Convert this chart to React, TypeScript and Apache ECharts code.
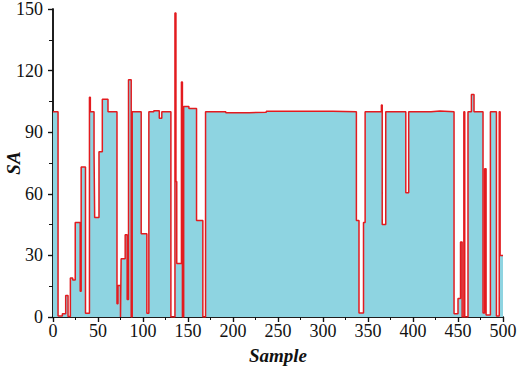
import React, { useEffect, useRef } from "react";
import * as echarts from "echarts";

// Step segments: each value holds from its start sample to the next start.
const segStarts = [
  0, 5.6, 10.4, 14.1, 16.7, 19.3, 21.9, 24.7, 30.2, 31.3, 36.1, 40.5, 41.5, 45.6, 46.3,
  51.1, 54.8, 61.1, 71.1, 72.2, 75, 75.7, 80.2, 82.4, 83.9, 86.9, 88, 98, 104.3, 106.5,
  112, 118.1, 120.9, 131, 135.5, 136.6, 137.5, 142.7, 143.8, 145.2, 151, 159.5, 166.5,
  169.5, 192, 218, 237, 311, 337.1, 340, 345, 346.8, 364.9, 365.8, 369.7, 392, 395.2,
  420, 430, 445.6, 450, 452.8, 454.6, 456.5, 457.5, 461.1, 464.9, 467.8, 477.8, 479.6,
  481.2, 486, 492.7, 495.8, 496.8,
];
const segValues = [
  100, 0.5, 1.6, 10.5, 0.3, 19, 18, 46, 12.5, 73, 1.8, 107, 100, 80, 48.5,
  80.5, 106, 100, 6.5, 15.4, 0, 28.4, 40, 8.5, 115.5, 0, 100, 40.5, 1.8, 100,
  100.5, 96.8, 100, 0, 148, 66, 26, 114.5, 0, 102.5, 101.5, 47, 0,
  100, 99.5, 99.7, 100.2, 100, 47, 2, 46, 100, 103.3, 45, 100, 60.5, 100,
  100.3, 100, 1.6, 9, 36.5, 0, 100, 0, 100, 108.3, 100, 2, 72.2,
  1, 100, 0.5, 100, 30,
];
const xEnd = 500;
const xTicks = [0, 50, 100, 150, 200, 250, 300, 350, 400, 450, 500];
const yTicks = [0, 30, 60, 90, 120, 150];

const FONT = "Times New Roman, Liberation Serif, serif";

export default function App() {
  const ref = useRef<HTMLDivElement>(null);
  useEffect(() => {
    if (!ref.current) return;
    const chart = echarts.init(ref.current, null, { renderer: "svg" });
    const data: [number, number][] = segStarts.map((s, i) => [s, segValues[i]]);
    data.push([xEnd, segValues[segValues.length - 1]]);
    const xMin = xTicks[0];
    const xMax = xTicks[xTicks.length - 1];
    const xInt = xTicks[1] - xTicks[0];
    const yMin = yTicks[0];
    const yMax = yTicks[yTicks.length - 1];
    const yInt = yTicks[1] - yTicks[0];
    const axisLine = { show: true, lineStyle: { color: "#111", width: 1.5 } };
    const labelStyle = { color: "#111", fontFamily: FONT, fontSize: 18 };
    chart.setOption({
      animation: false,
      backgroundColor: "#fff",
      textStyle: { fontFamily: FONT },
      grid: { left: 53, right: 18, top: 9, bottom: 52, containLabel: false, outerBoundsMode: "none" },
      xAxis: [
        {
          type: "value",
          position: "bottom",
          min: xMin,
          max: xMax,
          interval: xInt,
          name: "Sample",
          nameLocation: "middle",
          nameGap: 29,
          nameMoveOverlap: false,
          nameTextStyle: { fontFamily: FONT, fontSize: 19, fontWeight: "bold", fontStyle: "italic", color: "#111" },
          axisLine,
          axisTick: { show: true, inside: false, length: 5, lineStyle: { color: "#111", width: 1.2 } },
          minorTick: { show: true, splitNumber: 2, length: 3, lineStyle: { color: "#111", width: 1 } },
          axisLabel: { ...labelStyle, margin: 5 },
          splitLine: { show: false },
        },
        {
          type: "value",
          position: "top",
          min: xMin,
          max: xMax,
          interval: xInt,
          axisLine,
          axisTick: { show: true, inside: true, length: 5, lineStyle: { color: "#111", width: 1.2 } },
          axisLabel: { show: false },
          splitLine: { show: false },
        },
      ],
      yAxis: [
        {
          type: "value",
          position: "left",
          min: yMin,
          max: yMax,
          interval: yInt,
          name: "SA",
          nameLocation: "middle",
          nameGap: 30,
          nameMoveOverlap: false,
          nameTextStyle: { fontFamily: FONT, fontSize: 19, fontWeight: "bold", fontStyle: "italic", color: "#111" },
          axisLine,
          axisTick: { show: true, inside: false, length: 5, lineStyle: { color: "#111", width: 1.2 } },
          minorTick: { show: true, splitNumber: 2, length: 3, lineStyle: { color: "#111", width: 1 } },
          axisLabel: { ...labelStyle, margin: 10 },
          splitLine: { show: false },
        },
        {
          type: "value",
          position: "right",
          min: yMin,
          max: yMax,
          interval: yInt,
          axisLine,
          axisTick: { show: true, inside: true, length: 5, lineStyle: { color: "#111", width: 1.2 } },
          minorTick: { show: true, splitNumber: 2, length: 4, lineStyle: { color: "#111", width: 1 } },
          axisLabel: { show: false },
          splitLine: { show: false },
        },
      ],
      series: [
        {
          type: "line",
          xAxisIndex: 0,
          yAxisIndex: 0,
          step: "end",
          data,
          showSymbol: false,
          symbol: "none",
          lineStyle: { color: "#e31b1f", width: 1.5 },
          areaStyle: { color: "#8ed4e1", opacity: 1 },
          z: 2,
        },
      ],
    });
    return () => chart.dispose();
  }, []);
  return (
    <div
      ref={ref}
      style={{ position: "fixed", left: 0, top: 0, width: 521, height: 369, background: "#fff" }}
    />
  );
}
